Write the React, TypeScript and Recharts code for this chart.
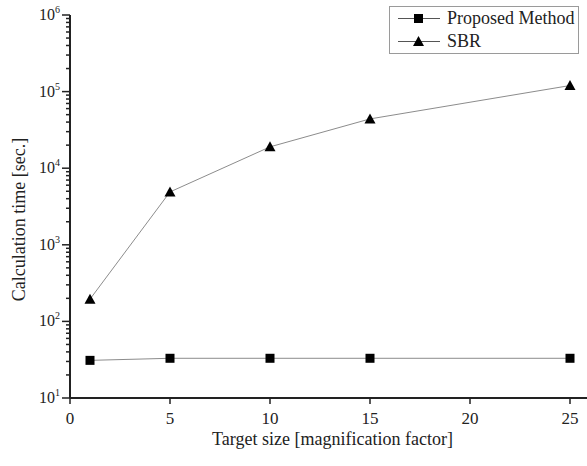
import { Legend, Line, LineChart, XAxis, YAxis } from 'recharts'

// Target size (magnification factor) vs calculation time in seconds, log scale.
const sizes = [1, 5, 10, 15, 25]
const proposedTimes = [31, 33, 33, 33, 33]
const sbrTimes = [195, 4900, 19000, 44000, 120000]
const xTicks = [0, 5, 10, 15, 20, 25]
const decades = [10, 100, 1000, 10000, 100000, 1000000]

const data = sizes.map((size, i) => ({
  size,
  proposed: proposedTimes[i],
  sbr: sbrTimes[i],
}))

// majors plus 2..9 minors per decade
const yTicks: number[] = []
decades.forEach((d, i) => {
  yTicks.push(d)
  if (i < decades.length - 1) for (let m = 2; m <= 9; m++) yTicks.push(d * m)
})

const FONT = '"Liberation Serif", "DejaVu Serif", serif'
const INK = '#222'
const LINE = '#8c8c8c'

function SquareDot({ cx, cy }: { cx?: number; cy?: number }) {
  if (cx == null || cy == null) return null
  return <rect x={cx - 4.5} y={cy - 4.5} width={9} height={9} fill="#000" />
}

function TriangleDot({ cx, cy }: { cx?: number; cy?: number }) {
  if (cx == null || cy == null) return null
  return <polygon points={`${cx},${cy - 5.5} ${cx + 5.5},${cy + 4.5} ${cx - 5.5},${cy + 4.5}`} fill="#000" />
}

// axis tickLine draws the short (minor) mark; majors get an extra stub + 10^n label
function LogTick({ x, y, payload }: { x?: number; y?: number; payload?: { value: number } }) {
  if (x == null || y == null || !payload) return null
  const exp = Math.log10(payload.value)
  const major = Math.abs(exp - Math.round(exp)) < 1e-6
  if (!major) return null
  return (
    <g>
      <path d={`M${x - 4},${y}H${x}`} stroke={INK} strokeWidth={1.5} />
      <text x={x - 6} y={y + 5} textAnchor="end" fontFamily={FONT} fontSize={16} fill={INK}>
        10
        <tspan dy={-7} fontSize={10}>
          {Math.round(exp)}
        </tspan>
      </text>
    </g>
  )
}

function LegendBox() {
  const rows = [
    { label: 'Proposed Method', dot: <rect x={16} y={-4.5} width={9} height={9} fill="#000" /> },
    { label: 'SBR', dot: <polygon points="20.5,-5.5 26,4.5 15,4.5" fill="#000" /> },
  ]
  return (
    <div
      style={{
        width: 190,
        boxSizing: 'border-box',
        border: '1px solid #9a9a9a',
        background: '#fff',
        padding: '0px 2px 0px 8px',
        fontFamily: FONT,
        fontSize: 18,
        color: INK,
        lineHeight: '23px',
        whiteSpace: 'nowrap',
      }}
    >
      {rows.map((r) => (
        <div key={r.label} style={{ display: 'flex', alignItems: 'center' }}>
          <svg width={49} height={23} style={{ overflow: 'visible', flex: 'none' }}>
            <g transform="translate(0,11.5)">
              <line x1={0} x2={42} y1={0} y2={0} stroke="#555" strokeWidth={1} />
              {r.dot}
            </g>
          </svg>
          <span>{r.label}</span>
        </div>
      ))}
    </div>
  )
}

export default function App() {
  return (
    <div style={{ position: 'absolute', left: 0, top: 0, background: '#fff' }}>
      <LineChart width={587} height={466} data={data} margin={{ top: 15, right: 0, bottom: 0, left: 0 }}>
        <XAxis
          dataKey="size"
          type="number"
          domain={[0, 25.85]}
          ticks={xTicks}
          interval={0}
          height={68}
          axisLine={{ stroke: INK, strokeWidth: 2 }}
          tickLine={{ stroke: INK, strokeWidth: 1.5 }}
          tickSize={6}
          tickMargin={8}
          tick={{ fill: INK, fontSize: 17, fontFamily: FONT }}
          label={{
            content: ({ viewBox }: any) => (
              <text
                x={viewBox.x + viewBox.width / 2 + 4}
                y={viewBox.y + 47}
                textAnchor="middle"
                fontFamily={FONT}
                fontSize={18}
                fill={INK}
              >
                Target size [magnification factor]
              </text>
            ),
          }}
        />
        <YAxis
          scale="log"
          domain={[10, 1000000]}
          ticks={yTicks}
          interval={0}
          width={70}
          allowDataOverflow
          axisLine={{ stroke: INK, strokeWidth: 2 }}
          tickLine={{ stroke: INK, strokeWidth: 1.5 }}
          tickSize={4}
          tickMargin={0}
          tick={<LogTick />}
          label={{
            content: ({ viewBox }: any) => (
              <text
                transform={`translate(${viewBox.x + 25}, ${viewBox.y + viewBox.height / 2 + 13}) rotate(-90)`}
                textAnchor="middle"
                fontFamily={FONT}
                fontSize={18}
                fill={INK}
              >
                Calculation time [sec.]
              </text>
            ),
          }}
        />
        <Legend
          layout="horizontal"
          align="center"
          verticalAlign="middle"
          content={<LegendBox />}
          wrapperStyle={{ top: 6, right: 8, left: 'auto', width: 'auto', height: 'auto' }}
        />
        <Line
          dataKey="proposed"
          name="Proposed Method"
          stroke={LINE}
          strokeWidth={1}
          dot={<SquareDot />}
          activeDot={false}
          isAnimationActive={false}
        />
        <Line
          dataKey="sbr"
          name="SBR"
          stroke={LINE}
          strokeWidth={1}
          dot={<TriangleDot />}
          activeDot={false}
          isAnimationActive={false}
        />
      </LineChart>
    </div>
  )
}
